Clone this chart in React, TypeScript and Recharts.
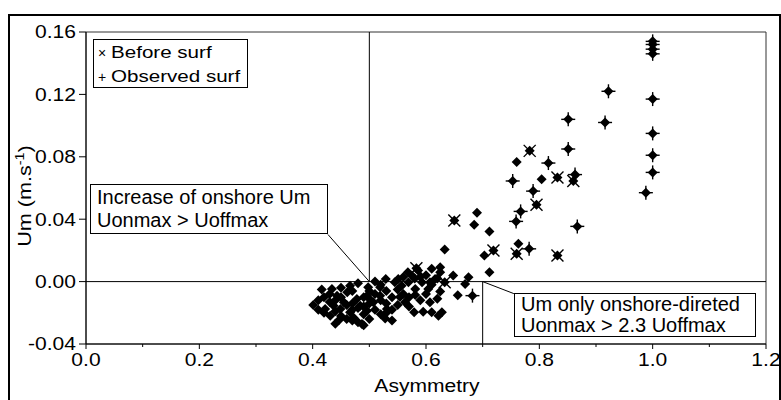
import { ScatterChart, Scatter, XAxis, YAxis, ReferenceLine, ReferenceArea } from 'recharts';

// points that were marked "before surf" (drawn with an x over the diamond)
const beforeSurf: [number, number][] = [
  [0.783, 0.0838], [0.832, 0.0667], [0.86, 0.0645], [0.795, 0.0493],
  [0.65, 0.0392], [0.719, 0.0199], [0.76, 0.0178], [0.832, 0.0167],
  [0.583, 0.0086], [0.633, -0.0004],
];

// points with observed surf (drawn with a + over the diamond)
const observedSurf: [number, number][] = [
  [1.0, 0.154], [1.0, 0.152], [1.0, 0.149], [1.0, 0.146], [1.0, 0.117],
  [1.0, 0.095], [1.0, 0.081], [1.0, 0.07], [0.988, 0.057], [0.922, 0.122],
  [0.916, 0.102], [0.851, 0.104], [0.851, 0.085], [0.816, 0.076], [0.753, 0.0645],
  [0.863, 0.0686], [0.789, 0.058], [0.767, 0.045], [0.759, 0.0386], [0.867, 0.0354],
  [0.782, 0.021], [0.682, -0.009],
];

// everything else, plain diamonds
const otherPts: [number, number][] = [
  [0.76, 0.0767], [0.804, 0.0656], [0.69, 0.0442], [0.685, 0.0365], [0.712, 0.0321],
  [0.633, 0.0206], [0.703, 0.0167], [0.763, 0.0242], [0.712, 0.006], [0.625, 0.0092],
  [0.648, 0.0039], [0.675, 0.0028], [0.669, -0.0015], [0.656, -0.0087], [0.625, -0.0064],
  [0.416, -0.0051], [0.434, -0.0047], [0.401, -0.015], [0.466, -0.0026], [0.498, -0.0037],
  [0.529, 0.0017], [0.545, -0.0004], [0.519, -0.0037], [0.422, -0.0176], [0.431, -0.0219],
  [0.447, -0.0244], [0.472, -0.023], [0.487, -0.0272], [0.528, -0.0236], [0.531, -0.0176],
  [0.466, -0.0197], [0.443, -0.009], [0.455, -0.0133], [0.478, -0.0112], [0.496, -0.009],
  [0.507, -0.0133], [0.519, -0.009], [0.437, -0.0155], [0.461, -0.0069], [0.484, -0.0155],
  [0.449, -0.0176], [0.496, -0.0187], [0.551, 0.0017], [0.554, -0.0099], [0.563, -0.0133],
  [0.581, -0.0086], [0.579, -0.0197], [0.595, -0.0193], [0.607, -0.0133], [0.61, -0.0197],
  [0.622, -0.0219], [0.604, -0.0047], [0.607, -0.0004], [0.569, -0.0004], [0.593, -0.0004],
  [0.581, -0.0047], [0.568, 0.006], [0.586, 0.0071], [0.557, -0.0026], [0.575, 0.0039],
  [0.61, 0.0082], [0.625, 0.006], [0.616, 0.0017], [0.628, -0.0197],
  [0.41, -0.012], [0.42, -0.02], [0.43, -0.013], [0.44, -0.019], [0.45, -0.022],
  [0.46, -0.015], [0.46, -0.024], [0.47, -0.018], [0.48, -0.026], [0.49, -0.021],
  [0.5, -0.024], [0.5, -0.014], [0.51, -0.018], [0.51, -0.008], [0.52, -0.021],
  [0.52, -0.012], [0.53, -0.006], [0.53, -0.014], [0.54, -0.01], [0.54, -0.018],
  [0.55, -0.005], [0.55, -0.015], [0.56, -0.008], [0.56, 0.003], [0.57, -0.01],
  [0.57, -0.016], [0.58, 0.002], [0.59, -0.012], [0.59, 0.003], [0.6, -0.008],
  [0.6, 0.004], [0.61, -0.002], [0.62, -0.011], [0.62, 0.002], [0.45, -0.004],
  [0.47, -0.006], [0.48, -0.001], [0.49, -0.01], [0.5, -0.006], [0.51, 0.0],
  [0.52, -0.002], [0.44, -0.012], [0.43, -0.008], [0.42, -0.01], [0.41, -0.018],
  [0.45, -0.01], [0.47, -0.014], [0.48, -0.017], [0.49, -0.016], [0.5, -0.011],
  [0.53, -0.02], [0.54, -0.025], [0.47, -0.025], [0.44, -0.027], [0.49, -0.028],
];

const xTicks = [0, 0.1, 0.2, 0.3, 0.4, 0.5, 0.6, 0.7, 0.8, 0.9, 1.0, 1.1, 1.2];
const yTicks = [-0.04, 0, 0.04, 0.08, 0.12, 0.16];

const arial = '"Liberation Sans", Arial, sans-serif';
// the original lettering is a bit wider than plain Arial
const tickFont = { fontFamily: arial, fontSize: 18, fill: '#000' };
const WIDE = 1.17;

const toXY = (pts: [number, number][]) => pts.map(([x, y]) => ({ x, y }));

const Diamond = ({ cx, cy }: any) => (
  <polygon points={`${cx},${cy - 5} ${cx + 5},${cy} ${cx},${cy + 5} ${cx - 5},${cy}`} fill="#000" />
);

const PlusMark = (props: any) => {
  const { cx, cy } = props;
  return (
    <g>
      <Diamond cx={cx} cy={cy} />
      <line x1={cx - 7} x2={cx + 7} y1={cy} y2={cy} stroke="#000" strokeWidth={1.4} />
      <line x1={cx} x2={cx} y1={cy - 7} y2={cy + 7} stroke="#000" strokeWidth={1.4} />
    </g>
  );
};

const CrossMark = (props: any) => {
  const { cx, cy } = props;
  return (
    <g>
      <Diamond cx={cx} cy={cy} />
      <line x1={cx - 6} x2={cx + 6} y1={cy - 6} y2={cy + 6} stroke="#000" strokeWidth={1.4} />
      <line x1={cx - 6} x2={cx + 6} y1={cy + 6} y2={cy - 6} stroke="#000" strokeWidth={1.4} />
    </g>
  );
};

const XTick = ({ x, y, payload }: any) => {
  const v = payload.value;
  const major = Math.round(v * 10) % 2 === 0;
  return (
    <g>
      <line x1={x} x2={x} y1={y} y2={y + (major ? 5 : 3)} stroke="#000" />
      {major && (
        <text transform={`translate(${x} ${y + 22}) scale(${WIDE} 1)`} textAnchor="middle" {...tickFont}>
          {v.toFixed(1)}
        </text>
      )}
    </g>
  );
};

const YTick = ({ x, y, payload }: any) => (
  <g>
    <line x1={x - 7} x2={x} y1={y} y2={y} stroke="#000" />
    <text transform={`translate(${x - 10} ${y}) scale(${WIDE} 1)`} dy="0.36em" textAnchor="end" {...tickFont}>
      {payload.value.toFixed(2)}
    </text>
  </g>
);

const boxStyle: React.CSSProperties = {
  position: 'absolute',
  background: '#fff',
  border: '1.5px solid #000',
  boxSizing: 'border-box',
  fontFamily: arial,
  fontSize: 20,
  color: '#000',
  whiteSpace: 'nowrap',
};

const wideSpan: React.CSSProperties = {
  display: 'inline-block',
  transform: 'scaleX(1.21)',
  transformOrigin: 'left center',
};

export default function App() {
  return (
    <div style={{ position: 'fixed', left: 0, top: 0, width: 781, height: 400, overflow: 'hidden', background: '#fff' }}>
      <div
        style={{
          position: 'absolute', left: 8, top: 14, width: 773, height: 400,
          border: '2px solid #000', boxSizing: 'border-box',
        }}
      />
      <div style={{ position: 'absolute', left: 0, top: 0 }}>
        <ScatterChart width={781} height={400} margin={{ top: 32, right: 15, bottom: 0, left: 0 }}>
          <XAxis
            type="number"
            dataKey="x"
            domain={[0, 1.2]}
            ticks={xTicks}
            tick={<XTick />}
            tickLine={false}
            tickSize={0}
            tickMargin={0}
            height={56}
            axisLine={{ stroke: '#000' }}
          />
          <YAxis
            type="number"
            dataKey="y"
            domain={[-0.04, 0.16]}
            ticks={yTicks}
            tick={<YTick />}
            tickLine={false}
            tickSize={0}
            tickMargin={0}
            width={86}
            axisLine={{ stroke: '#000' }}
          />
          <ReferenceArea x1={0} x2={1.2} y1={-0.04} y2={0.16} fill="none" stroke="#333" strokeWidth={1} />
          <ReferenceLine y={0} stroke="#000" />
          <ReferenceLine segment={[{ x: 0.5, y: 0 }, { x: 0.5, y: 0.16 }]} stroke="#000" />
          <ReferenceLine segment={[{ x: 0.7, y: -0.04 }, { x: 0.7, y: 0 }]} stroke="#000" />
          <ReferenceLine segment={[{ x: 0.427, y: 0.0302 }, { x: 0.5, y: 0 }]} stroke="#000" />
          <ReferenceLine segment={[{ x: 0.7, y: 0 }, { x: 0.755, y: -0.0077 }]} stroke="#000" />
          <Scatter data={toXY(otherPts)} shape={<Diamond />} isAnimationActive={false} />
          <Scatter data={toXY(beforeSurf)} shape={<CrossMark />} isAnimationActive={false} />
          <Scatter data={toXY(observedSurf)} shape={<PlusMark />} isAnimationActive={false} />
        </ScatterChart>
      </div>

      {/* axis titles */}
      <div
        style={{
          position: 'absolute', left: 427, top: 376, transform: `translateX(-50%) scaleX(${WIDE})`,
          fontFamily: arial, fontSize: 18, lineHeight: '20px', whiteSpace: 'nowrap', color: '#000',
        }}
      >
        Asymmetry
      </div>
      <div
        style={{
          position: 'absolute', left: 22, top: 196, transform: 'translate(-50%, -50%) rotate(-90deg) scaleX(1.2)',
          fontFamily: arial, fontSize: 18, whiteSpace: 'nowrap', color: '#000', lineHeight: '20px',
        }}
      >
        Um (m.s<sup style={{ fontSize: 12 }}>-1</sup>)
      </div>

      {/* legend */}
      <div style={{ ...boxStyle, left: 93, top: 39, width: 155, height: 49, fontSize: 17, padding: '1px 0 0 4px', lineHeight: '23px' }}>
        <div><span style={{ fontSize: 14 }}>×</span> <span style={wideSpan}>Before surf</span></div>
        <div><span style={{ fontSize: 14 }}>+</span> <span style={wideSpan}>Observed surf</span></div>
      </div>

      {/* annotations */}
      <div style={{ ...boxStyle, left: 90, top: 184, width: 238, height: 50, padding: '1px 0 0 6px', lineHeight: '23px' }}>
        <div>Increase of onshore Um</div>
        <div>Uonmax &gt; Uoffmax</div>
      </div>
      <div style={{ ...boxStyle, left: 514, top: 293, width: 242, height: 44, padding: '0 0 0 6px', lineHeight: '21px' }}>
        <div>Um only onshore-direted</div>
        <div>Uonmax &gt; 2.3 Uoffmax</div>
      </div>
    </div>
  );
}
